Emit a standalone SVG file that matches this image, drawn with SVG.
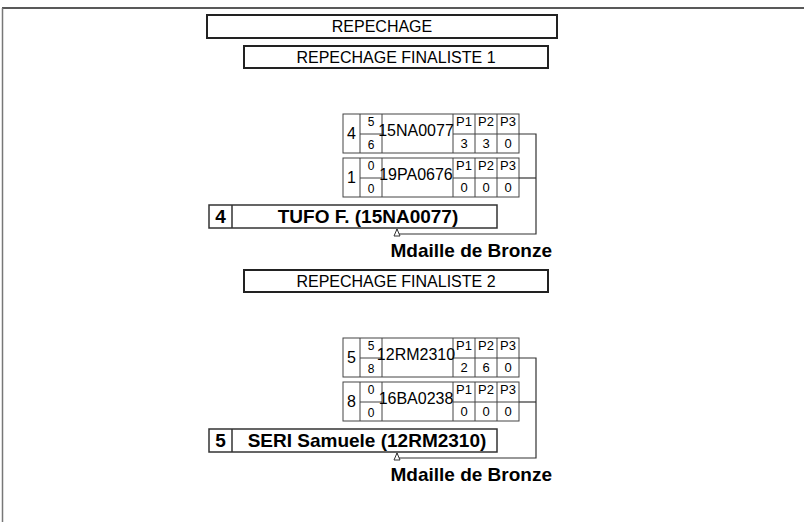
<svg xmlns="http://www.w3.org/2000/svg" width="804" height="522" viewBox="0 0 804 522">
<defs>
<style>
text{font-family:"Liberation Sans",Arial,sans-serif;fill:#000}
.t{font-size:16px;text-anchor:middle}
.tb{fill:#fff;stroke:#222;stroke-width:2}
.c{fill:#fff;stroke:#444;stroke-width:1}
.n{font-size:16px;text-anchor:middle}
.s{font-size:12px;text-anchor:middle}
.nm{font-size:16px;text-anchor:middle}
.p{font-size:13px;text-anchor:middle}
.w{fill:#fff;stroke:#333;stroke-width:1.5}
.wb{font-size:19px;font-weight:bold;text-anchor:middle}
.md{font-size:19px;font-weight:bold;text-anchor:end}
.ln{fill:none;stroke:#333;stroke-width:1.2}
</style>
<marker id="ah" markerWidth="10" markerHeight="8" refX="8" refY="4" orient="auto" markerUnits="userSpaceOnUse">
<path d="M1,1 L8,4 L1,7 Z" fill="#fff" stroke="#333" stroke-width="1"/>
</marker>
<g id="row">
<rect class="c" x="343" y="114" width="176" height="39"/>
<line class="c" x1="360" y1="114" x2="360" y2="153"/>
<line class="c" x1="382" y1="114" x2="382" y2="153"/>
<line class="c" x1="453" y1="114" x2="453" y2="153"/>
<line class="c" x1="475" y1="114" x2="475" y2="153"/>
<line class="c" x1="497" y1="114" x2="497" y2="153"/>
<line class="c" x1="360" y1="134" x2="382" y2="134"/>
<line class="c" x1="453" y1="134" x2="519" y2="134"/>
<text class="p" x="464" y="126">P1</text>
<text class="p" x="486" y="126">P2</text>
<text class="p" x="508" y="126">P3</text>
</g>
</defs>
<g id="frame">
<line x1="2" y1="8" x2="804" y2="8" stroke="#222" stroke-width="1.5"/>
<line x1="2.5" y1="8" x2="2.5" y2="522" stroke="#777" stroke-width="1.5"/>
</g>
<g id="title">
<rect class="tb" x="207" y="15" width="350" height="23"/>
<text class="t" x="382" y="32">REPECHAGE</text>
</g>
<g id="section1">
<rect class="tb" x="244" y="46" width="304" height="22"/>
<text class="t" x="396" y="63">REPECHAGE FINALISTE 1</text>
</g>
<g id="match1a">
<use href="#row"/>
<text class="n" x="351.5" y="139">4</text>
<text class="s" x="371" y="126">5</text>
<text class="s" x="371" y="149">6</text>
<text class="nm" x="416" y="136">15NA0077</text>
<text class="p" x="464" y="148">3</text>
<text class="p" x="486" y="148">3</text>
<text class="p" x="508" y="148">0</text>
</g>
<g id="match1b">
<use href="#row" y="44"/>
<text class="n" x="351.5" y="183">1</text>
<text class="s" x="371" y="170">0</text>
<text class="s" x="371" y="193">0</text>
<text class="nm" x="416" y="180">19PA0676</text>
<text class="p" x="464" y="192">0</text>
<text class="p" x="486" y="192">0</text>
<text class="p" x="508" y="192">0</text>
</g>
<g id="winner1">
<rect class="w" x="209" y="205" width="288" height="23"/>
<line class="w" x1="232" y1="205" x2="232" y2="228"/>
<text class="wb" x="220.5" y="223">4</text>
<text class="wb" x="368" y="223">TUFO F. (15NA0077)</text>
</g>
<g id="medal1"><text class="md" x="552" y="257">Mdaille de Bronze</text></g>
<g id="section2">
<rect class="tb" x="244" y="270" width="304" height="22"/>
<text class="t" x="396" y="287">REPECHAGE FINALISTE 2</text>
</g>
<g id="match2a">
<use href="#row" y="224"/>
<text class="n" x="351.5" y="363">5</text>
<text class="s" x="371" y="350">5</text>
<text class="s" x="371" y="373">8</text>
<text class="nm" x="416" y="360">12RM2310</text>
<text class="p" x="464" y="372">2</text>
<text class="p" x="486" y="372">6</text>
<text class="p" x="508" y="372">0</text>
</g>
<g id="match2b">
<use href="#row" y="268"/>
<text class="n" x="351.5" y="407">8</text>
<text class="s" x="371" y="394">0</text>
<text class="s" x="371" y="417">0</text>
<text class="nm" x="416" y="404">16BA0238</text>
<text class="p" x="464" y="416">0</text>
<text class="p" x="486" y="416">0</text>
<text class="p" x="508" y="416">0</text>
</g>
<g id="winner2">
<rect class="w" x="209" y="429" width="288" height="23"/>
<line class="w" x1="232" y1="429" x2="232" y2="452"/>
<text class="wb" x="220.5" y="447">5</text>
<text class="wb" x="367" y="447">SERI Samuele (12RM2310)</text>
</g>
<g id="medal2"><text class="md" x="552" y="481">Mdaille de Bronze</text></g>
<g id="connectors">
<polyline class="ln" points="519,134 536,134 536,234 397,234 397,229" marker-end="url(#ah)"/>
<line class="ln" x1="519" y1="178" x2="536" y2="178"/>
<polyline class="ln" points="519,358 536,358 536,458 397,458 397,453" marker-end="url(#ah)"/>
<line class="ln" x1="519" y1="402" x2="536" y2="402"/>
</g>
</svg>
